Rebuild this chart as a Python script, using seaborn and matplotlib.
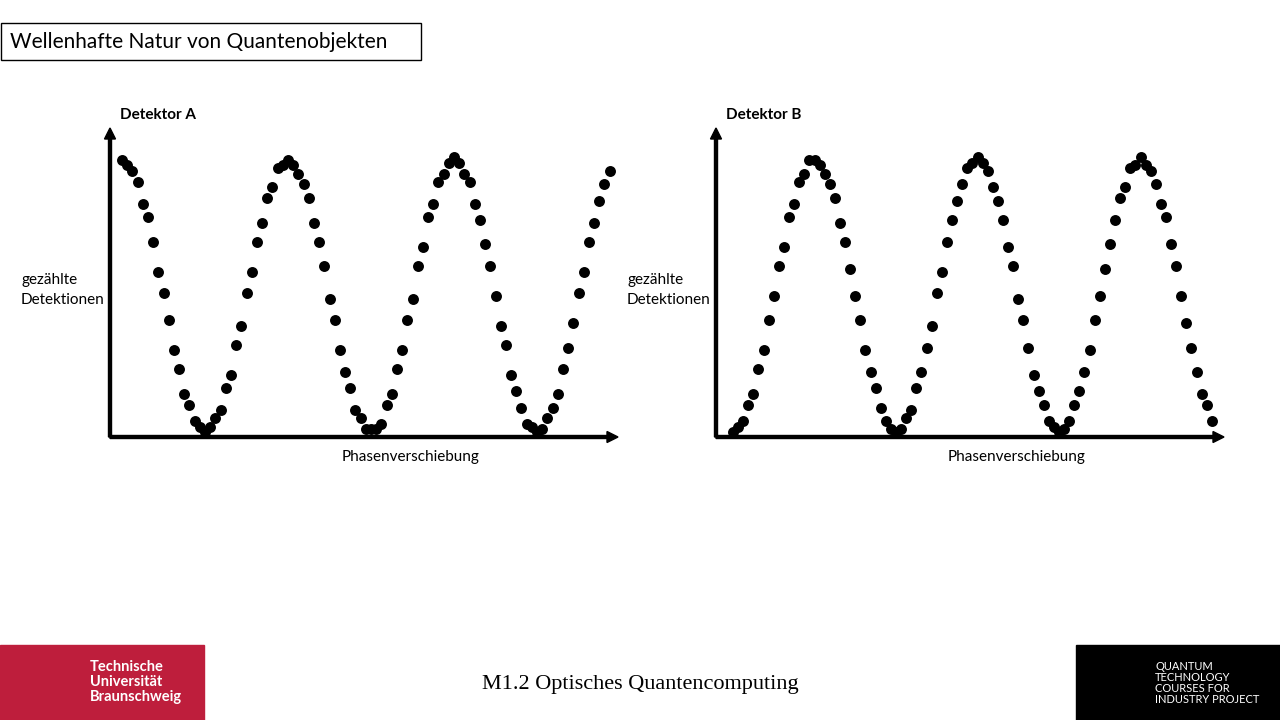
import numpy as np
import pandas as pd
import matplotlib
matplotlib.use("Agg")
import matplotlib.pyplot as plt
import seaborn as sns
from matplotlib.patches import Rectangle

# counts (normalised 0..1), 32 samples per period
counts_a = [1.00, .98, .96, .92, .84, .79, .70, .59, .51, .41, .30, .23, .14, .10, .04, .02, .00,
            .02, .05, .08, .16, .21, .32, .39, .51, .59, .70, .77, .86, .90, .97, .98,
            1.00, .98, .95, .91, .86, .77, .70, .61, .49, .41, .30, .22, .16, .08, .05, .01, .01,
            .01, .03, .10, .14, .23, .30, .41, .49, .61, .68, .79, .84, .92, .95, .99,
            1.01, .99, .95, .92, .84, .78, .69, .61, .50, .39, .32, .21, .15, .09, .03, .02, .00,
            .01, .05, .09, .14, .23, .31, .40, .51, .59, .70, .77, .85, .91, .96]
counts_b = [.00, .02, .04, .10, .14, .23, .30, .41, .50, .61, .68, .79, .84, .92, .95, 1.00,
            1.00, .98, .95, .91, .86, .77, .70, .60, .50, .41, .30, .22, .16, .09, .04, .01,
            .00, .01, .05, .08, .16, .22, .31, .39, .51, .59, .70, .78, .85, .91, .97, .99,
            1.01, .99, .96, .90, .85, .78, .68, .61, .49, .41, .31, .21, .15, .10, .04, .02,
            .00, .01, .04, .10, .15, .22, .30, .41, .50, .60, .69, .78, .86, .90, .97, .98,
            1.01, .98, .96, .91, .84, .79, .69, .61, .50, .40, .31, .22, .14, .10, .04]
samples_per_period = 32

W, H = 1280, 720
sns.set_style("white")
plt.rcParams['font.family'] = ['Lato', 'DejaVu Sans']
plt.rcParams['text.color'] = 'black'
fig = plt.figure(figsize=(12.8, 7.2), dpi=100)


def px(x0, y0, x1, y1):
    return [x0 / W, 1 - y1 / H, (x1 - x0) / W, (y1 - y0) / H]


def arrow(x, y, dx, dy):
    fig.add_artist(matplotlib.patches.FancyArrow(x / W, 1 - y / H, dx / W, -dy / H,
                                                 width=3 / H if dy == 0 else 3 / W,
                                                 head_width=11 / H if dy == 0 else 11 / W,
                                                 head_length=11 / W if dy == 0 else 11 / H,
                                                 length_includes_head=True, color='black',
                                                 transform=fig.transFigure))


def panel(counts, x_org, x_start, x_end, px_per_period, title):
    ax = fig.add_axes(px(x_org, 130, x_end, 437))
    df = pd.DataFrame({'phase': np.arange(len(counts)) / samples_per_period, 'count': counts})
    sns.scatterplot(data=df, x='phase', y='count', ax=ax, color='black', s=62,
                    edgecolor='black', linewidth=0, marker='o')
    ax.set_xlim((x_org - x_start) / px_per_period, (x_end - x_start) / px_per_period)
    ax.set_ylim(-5 / 272, (432 - 130) / 272)
    ax.axis('off')
    arrow(x_org, 437, x_end - x_org, 0)
    arrow(x_org, 437, 0, -(437 - 128))
    fig.text((x_org + 10) / W, 1 - 115 / H, title, fontsize=11, weight='bold', va='center')
    fig.text((x_org - 89) / W, 1 - 290 / H, 'gezählte\nDetektionen', fontsize=11, va='center',
             linespacing=1.5)
    fig.text((x_org + 301) / W, 1 - 457 / H, 'Phasenverschiebung', fontsize=11, ha='center',
             va='center')


panel(counts_a, 110, 122, 618, 166, 'Detektor A')
panel(counts_b, 716, 733, 1224, 163, 'Detektor B')

fig.text(10 / W, 1 - 42 / H, 'Wellenhafte Natur von Quantenobjekten', fontsize=15, va='center')
fig.add_artist(Rectangle((1 / W, 1 - 60 / H), 420 / W, 37 / H, fill=False, edgecolor='black',
                         linewidth=1, transform=fig.transFigure))

fig.text(640 / W, 1 - 684 / H, 'M1.2 Optisches Quantencomputing', fontsize=16, ha='center',
         va='center', family=['Liberation Serif', 'DejaVu Serif'])

fig.add_artist(Rectangle((0, 0), 204 / W, 75 / H, color='#be1e3c', transform=fig.transFigure))
fig.text(90 / W, 1 - 682 / H, 'Technische\nUniversität\nBraunschweig', color='white',
         fontsize=10.5, weight='bold', va='center', linespacing=1.1)
fig.add_artist(Rectangle((1076 / W, 0), 204 / W, 75 / H, color='black', transform=fig.transFigure))
fig.text(1155 / W, 1 - 683 / H, 'QUANTUM\nTECHNOLOGY\nCOURSES FOR\nINDUSTRY PROJECT',
         color='white', fontsize=8, va='center', linespacing=1.0)

fig.savefig('out.png', dpi=100)
